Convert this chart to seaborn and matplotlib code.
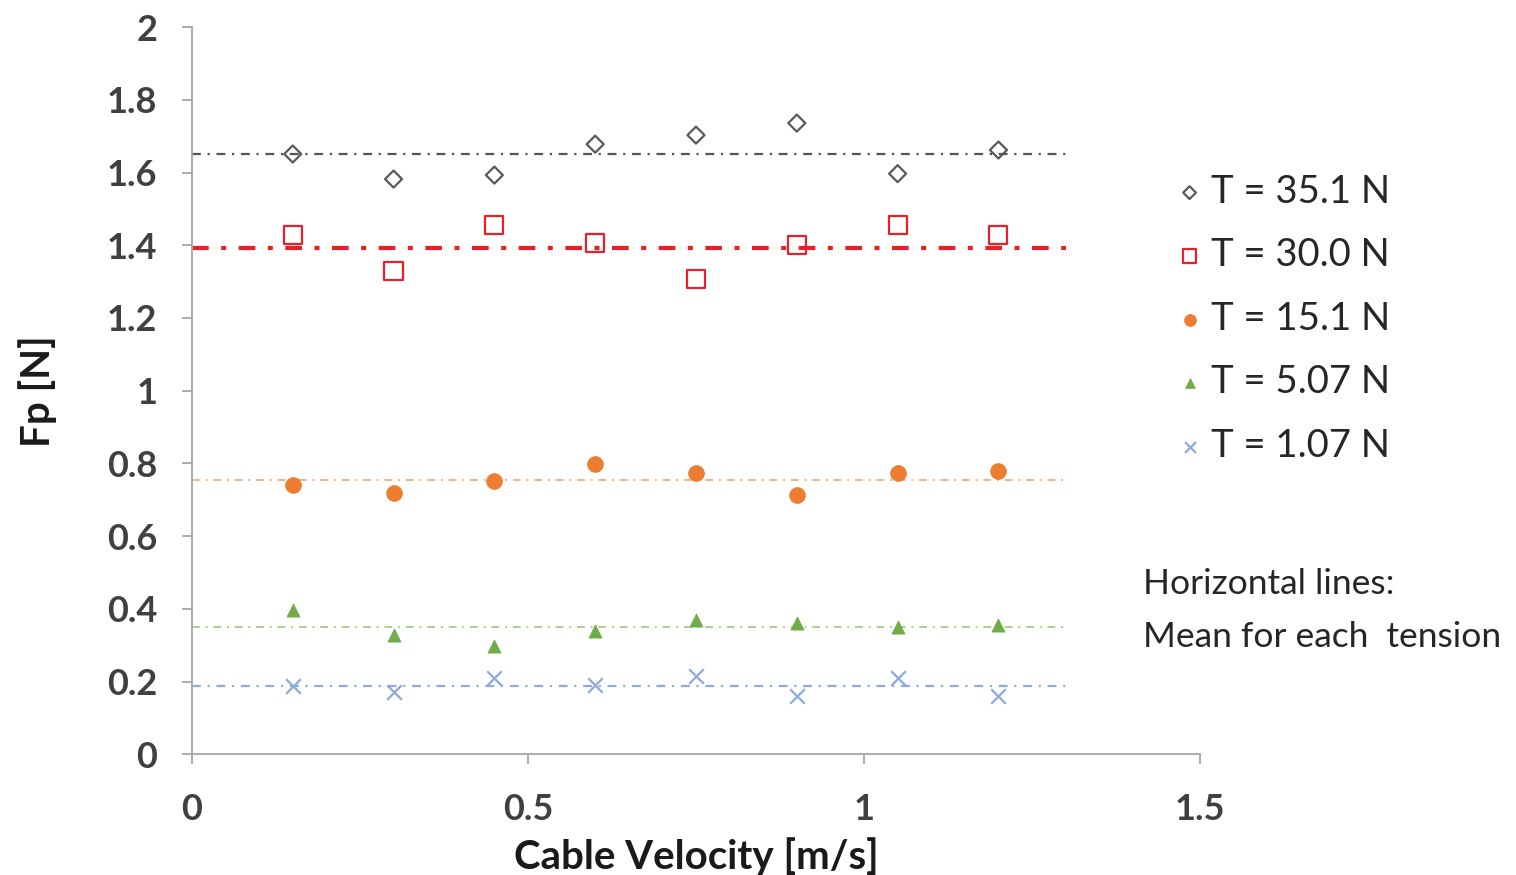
import numpy as np
import pandas as pd
import matplotlib
matplotlib.use("Agg")
import matplotlib.pyplot as plt
import seaborn as sns

# ---- data ----
velocity = [0.15, 0.30, 0.45, 0.60, 0.75, 0.90, 1.05, 1.20]
fp_351 = [1.651, 1.582, 1.593, 1.678, 1.703, 1.736, 1.597, 1.662]
fp_300 = [1.428, 1.329, 1.455, 1.406, 1.307, 1.400, 1.455, 1.428]
fp_151 = [0.740, 0.718, 0.751, 0.798, 0.773, 0.713, 0.773, 0.779]
fp_507 = [0.396, 0.327, 0.297, 0.338, 0.369, 0.360, 0.349, 0.355]
fp_107 = [0.187, 0.171, 0.209, 0.190, 0.215, 0.160, 0.209, 0.160]
mean_values = [1.650, 1.392, 0.754, 0.349, 0.187]
series_labels = ["T = 35.1 N", "T = 30.0 N", "T = 15.1 N", "T = 5.07 N", "T = 1.07 N"]
mean_line_end = 1.3
x_ticks = [0, 0.5, 1, 1.5]
x_tick_labels = ["0", "0.5", "1", "1.5"]
y_ticks = [0, 0.2, 0.4, 0.6, 0.8, 1.0, 1.2, 1.4, 1.6, 1.8, 2.0]
y_tick_labels = ["0", "0.2", "0.4", "0.6", "0.8", "1", "1.2", "1.4", "1.6", "1.8", "2"]

sns.set_theme(style="white")
plt.rcParams["font.family"] = ["Lato", "DejaVu Sans"]

fig = plt.figure(figsize=(15.16, 8.75), dpi=100)
ax = fig.add_axes([0.1266, 0.138, 0.665, 0.831])

series = [fp_351, fp_300, fp_151, fp_507, fp_107]
marker_colors = ["#595959", "#E8202A", "#ED7D31", "#70AD47", "#8EA9DB"]
line_colors = ["#555555", "#E8202A", "#F4B183", "#A9D18E", "#8FAADC"]
markers = ["D", "s", "o", "^", "x"]
sizes = [75, 170, 130, 90, 110]
filled = [False, False, True, True, True]
line_widths = [1.6, 3.0, 1.4, 1.4, 1.6]
line_dashes = [(0, (4, 3, 1, 3)), (0, (4, 3, 1.2, 3)), (0, (4, 3, 1, 3)), (0, (4, 3, 1, 3)), (0, (4, 3, 1, 3))]

# mean lines
for mv, lc, lw, ls in zip(mean_values, line_colors, line_widths, line_dashes):
    df_line = pd.DataFrame({"x": [0, mean_line_end], "y": [mv, mv]})
    sns.lineplot(data=df_line, x="x", y="y", color=lc, lw=lw, linestyle=ls, ax=ax, zorder=2)

handles = []
for vals, lab, c, m, s, f in zip(series, series_labels, marker_colors, markers, sizes, filled):
    df = pd.DataFrame({"x": velocity, "y": vals})
    before = len(ax.collections)
    sns.scatterplot(data=df, x="x", y="y", marker=m, s=s, color=c, ax=ax, zorder=3, label=lab)
    coll = ax.collections[before]
    if f:
        if m == "x":
            coll.set_edgecolor(c)
            coll.set_facecolor(c)
            coll.set_linewidth(1.6)
        else:
            coll.set_facecolor(c)
            coll.set_edgecolor(c)
            coll.set_linewidth(0.5)
    else:
        coll.set_facecolor("none")
        coll.set_edgecolor(c)
        coll.set_linewidth(1.6)
    handles.append(coll)

ax.set_xlim(0, 1.5)
ax.set_ylim(0, 2)
ax.set_xticks(x_ticks)
ax.set_xticklabels(x_tick_labels)
ax.set_yticks(y_ticks)
ax.set_yticklabels(y_tick_labels)

for sp in ["top", "right"]:
    ax.spines[sp].set_visible(False)
for sp in ["left", "bottom"]:
    ax.spines[sp].set_color("#A6A6A6")
    ax.spines[sp].set_linewidth(1.3)

ax.tick_params(axis="both", which="major", direction="out", length=7, width=1.3,
               color="#A6A6A6", labelsize=26, labelcolor="#404040", bottom=True, left=True)
ax.tick_params(axis="x", pad=21)
ax.tick_params(axis="y", pad=18)
for t in ax.get_xticklabels() + ax.get_yticklabels():
    t.set_fontweight("bold")

ax.set_xlabel("Cable Velocity [m/s]", fontsize=29, fontweight="bold", color="#1a1a1a", labelpad=8)
ax.set_ylabel("Fp [N]", fontsize=29, fontweight="bold", color="#1a1a1a", labelpad=36)

leg = ax.legend(handles=handles, labels=series_labels, loc="upper left",
                bbox_to_anchor=(0.762, 0.819), bbox_transform=fig.transFigure,
                frameon=False, fontsize=27.5, handletextpad=0.05, labelspacing=0.72,
                markerscale=0.75, handlelength=1.0, borderaxespad=0)
for t in leg.get_texts():
    t.set_color("#262626")

fig.text(0.754, 0.332, "Horizontal lines:", fontsize=25.5, color="#262626", va="center", ha="left")
fig.text(0.754, 0.272, "Mean for each  tension", fontsize=25.5, color="#262626", va="center", ha="left")

fig.savefig("out.png", dpi=100)
